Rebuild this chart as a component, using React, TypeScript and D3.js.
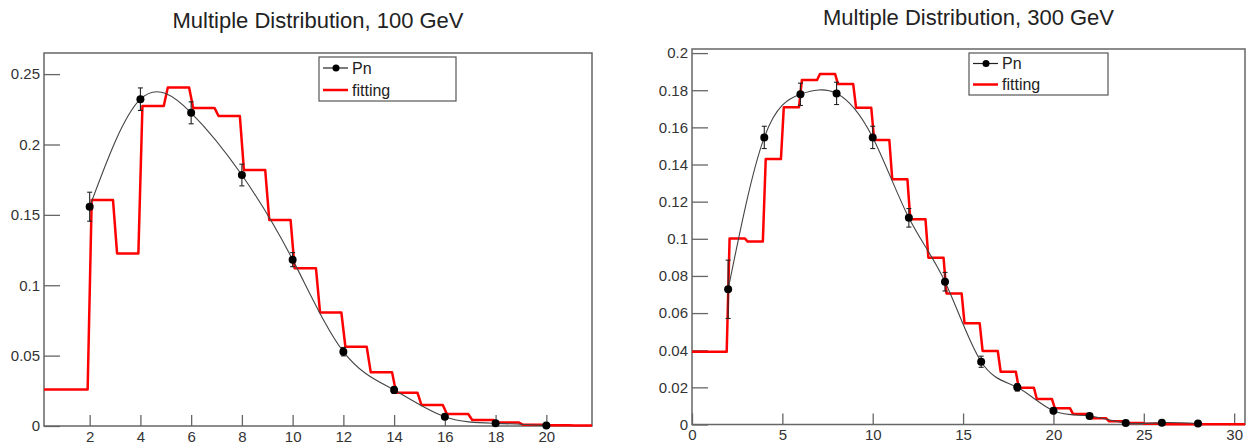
import React, { useRef, useEffect } from "react";
import * as d3 from "d3";

// 100 GeV: measured Pn with errors, and fitted step values per unit bin (n = 0..21)
const leftN = [2, 4, 6, 8, 10, 12, 14, 16, 18, 20];
const leftPn = [0.1558, 0.2322, 0.2225, 0.1783, 0.1182, 0.0528, 0.0256, 0.0066, 0.0019, 0.0003];
const leftErr = [0.0103, 0.008, 0.0078, 0.0077, 0.005, 0.003, 0.0025, 0.0015, 0.0008, 0.0003];
const leftFit = [
  0.026, 0.026, 0.1605, 0.1226, 0.2273, 0.2405, 0.226, 0.2202, 0.1818, 0.1463, 0.112,
  0.0807, 0.0563, 0.0381, 0.0237, 0.0149, 0.0085, 0.0043, 0.0025, 0.0008, 0.0005, 0.0004,
];

// 300 GeV (n = 0..30 for the fit)
const rightN = [2, 4, 6, 8, 10, 12, 14, 16, 18, 20, 22, 24, 26, 28];
const rightPn = [0.0728, 0.1546, 0.1778, 0.1783, 0.1546, 0.1113, 0.0769, 0.0338, 0.02, 0.0074, 0.0046, 0.0008, 0.001, 0.0005];
const rightErr = [0.0157, 0.006, 0.006, 0.006, 0.006, 0.005, 0.005, 0.003, 0.002, 0.0015, 0.001, 0.0005, 0.0005, 0.0003];
const rightFit = [
  0.0392, 0.0392, 0.1002, 0.0985, 0.1429, 0.1708, 0.1855, 0.1887, 0.1833, 0.1705, 0.1532,
  0.132, 0.1105, 0.0898, 0.0706, 0.0545, 0.0396, 0.0284, 0.0198, 0.0137, 0.0087, 0.0057,
  0.0033, 0.0017, 0.0008, 0.0004, 0.0002, 0.0001, 0.0001, 0.0001, 0.0001,
];

const leftXTicks = [2, 4, 6, 8, 10, 12, 14, 16, 18, 20];
const rightXTicks = [0, 5, 10, 15, 20, 25, 30];
const leftYTicks = [0, 0.05, 0.1, 0.15, 0.2, 0.25];
const rightYTicks = [0, 0.02, 0.04, 0.06, 0.08, 0.1, 0.12, 0.14, 0.16, 0.18, 0.2];

const legendLabels = ["Pn", "fitting"];

const FONT = "'Liberation Sans', Arial, Helvetica, sans-serif";
const FRAME = "#666";

interface Panel {
  title: string;
  titleY: number;
  left: number;
  right: number;
  top: number;
  bottom: number;
  xDomain: [number, number];
  yDomain: [number, number];
  xMajor: number[];
  xMinorStep: number;
  yMajor: number[];
  yMinorStep: number;
  n: number[];
  pn: number[];
  err: number[];
  fit: number[];
  legend: { x: number; y: number; w: number; h: number };
}

const panels: Panel[] = [
  {
    title: "Multiple Distribution, 100 GeV",
    titleY: 28,
    left: 44,
    right: 592,
    top: 53,
    bottom: 426,
    xDomain: [0.2, 21.8],
    yDomain: [0, 0.265],
    xMajor: leftXTicks,
    xMinorStep: 0.5,
    yMajor: leftYTicks,
    yMinorStep: 0.01,
    n: leftN,
    pn: leftPn,
    err: leftErr,
    fit: leftFit,
    legend: { x: 319, y: 57, w: 137, h: 44 },
  },
  {
    title: "Multiple Distribution, 300 GeV",
    titleY: 25,
    left: 692,
    right: 1245,
    top: 49,
    bottom: 424.5,
    xDomain: [0, 30.6],
    yDomain: [0, 0.2022],
    xMajor: rightXTicks,
    xMinorStep: 1,
    yMajor: rightYTicks,
    yMinorStep: 0.005,
    n: rightN,
    pn: rightPn,
    err: rightErr,
    fit: rightFit,
    legend: { x: 969, y: 53, w: 139, h: 42 },
  },
];

const stepsIn = (lo: number, hi: number, step: number) => {
  const out: number[] = [];
  const k0 = Math.ceil(lo / step - 1e-9);
  for (let k = k0; k * step <= hi + 1e-9; k++) out.push(+(k * step).toFixed(6));
  return out;
};

const drawPanel = (svg: d3.Selection<SVGSVGElement, unknown, null, undefined>, p: Panel) => {
  const x = d3.scaleLinear().domain(p.xDomain).range([p.left, p.right]);
  const y = d3.scaleLinear().domain(p.yDomain).range([p.bottom, p.top]);
  const g = svg.append("g");

  g.append("text")
    .attr("x", (p.left + p.right) / 2)
    .attr("y", p.titleY)
    .attr("text-anchor", "middle")
    .attr("font-family", FONT)
    .attr("font-size", 22)
    .attr("fill", "#222")
    .text(p.title);

  // y axis ticks (inside the frame)
  const yMinor = stepsIn(p.yDomain[0], p.yDomain[1], p.yMinorStep);
  const yAx = g.append("g").attr("transform", `translate(${p.left},0)`);
  yAx.call(d3.axisLeft(y).tickValues(yMinor).tickSize(-8).tickFormat(() => ""));
  yAx.call(
    d3
      .axisLeft(y)
      .tickValues(p.yMajor)
      .tickSize(-16)
      .tickPadding(4)
      .tickFormat((d) => String(+(+d).toFixed(3)))
  );

  const xMinor = stepsIn(p.xDomain[0], p.xDomain[1], p.xMinorStep);
  const xAx = g.append("g").attr("transform", `translate(0,${p.bottom})`);
  xAx.call(d3.axisBottom(x).tickValues(xMinor).tickSize(-5.5).tickFormat(() => ""));
  xAx.call(d3.axisBottom(x).tickValues(p.xMajor).tickSize(-11).tickPadding(5).tickFormat((d) => String(d)));

  g.selectAll(".domain").remove();
  g.selectAll(".tick line").attr("stroke", FRAME).attr("stroke-width", 1.3);
  g.selectAll(".tick text").attr("font-family", FONT).attr("font-size", 15).attr("fill", "#333");

  g.append("rect")
    .attr("x", p.left)
    .attr("y", p.top)
    .attr("width", p.right - p.left)
    .attr("height", p.bottom - p.top)
    .attr("fill", "none")
    .attr("stroke", FRAME)
    .attr("stroke-width", 1.5);

  // fitted step function, sampled like a TF1 so the risers lean a little
  const s = 0.08;
  const last = p.fit.length - 1;
  const stepPts: [number, number][] = [];
  p.fit.forEach((v, n) => {
    const a = n === 0 ? p.xDomain[0] : n + s;
    const b = n === last ? p.xDomain[1] : n + 1 - s;
    stepPts.push([a, v], [b, v]);
  });
  g.append("path")
    .datum(stepPts)
    .attr("fill", "none")
    .attr("stroke", "#ff0000")
    .attr("stroke-width", 2.5)
    .attr("stroke-linejoin", "round")
    .attr(
      "d",
      d3
        .line<[number, number]>()
        .x((d) => x(d[0]))
        .y((d) => y(d[1]))
    );

  // smooth curve through Pn
  const pts = p.n.map((n, i) => ({ n, v: p.pn[i], e: p.err[i] }));
  g.append("path")
    .datum(pts)
    .attr("fill", "none")
    .attr("stroke", "#444")
    .attr("stroke-width", 1.1)
    .attr(
      "d",
      d3
        .line<{ n: number; v: number }>()
        .curve(d3.curveNatural)
        .x((d) => x(d.n))
        .y((d) => y(d.v))
    );

  const eb = g.append("g").attr("stroke", "#222").attr("stroke-width", 1.1);
  pts.forEach((d) => {
    const cx = x(d.n);
    eb.append("line").attr("x1", cx).attr("x2", cx).attr("y1", y(d.v - d.e)).attr("y2", y(d.v + d.e));
    [d.v - d.e, d.v + d.e].forEach((yy) =>
      eb.append("line").attr("x1", cx - 2.5).attr("x2", cx + 2.5).attr("y1", y(yy)).attr("y2", y(yy))
    );
  });
  g.append("g")
    .selectAll("circle")
    .data(pts)
    .join("circle")
    .attr("cx", (d) => x(d.n))
    .attr("cy", (d) => y(d.v))
    .attr("r", 4)
    .attr("fill", "#000");

  // legend
  const L = p.legend;
  const lg = g.append("g");
  lg.append("rect")
    .attr("x", L.x)
    .attr("y", L.y)
    .attr("width", L.w)
    .attr("height", L.h)
    .attr("fill", "#fff")
    .attr("stroke", "#555")
    .attr("stroke-width", 1.2);
  const row1 = L.y + L.h * 0.25;
  const row2 = L.y + L.h * 0.75;
  lg.append("line").attr("x1", L.x + 4).attr("x2", L.x + 29).attr("y1", row1).attr("y2", row1).attr("stroke", "#222").attr("stroke-width", 1.2);
  lg.append("circle").attr("cx", L.x + 17).attr("cy", row1).attr("r", 3.5).attr("fill", "#000");
  lg.append("line").attr("x1", L.x + 4).attr("x2", L.x + 29).attr("y1", row2).attr("y2", row2).attr("stroke", "#ff0000").attr("stroke-width", 2.5);
  legendLabels.forEach((t, i) => {
    lg.append("text")
      .attr("x", L.x + 33)
      .attr("y", i === 0 ? row1 : row2)
      .attr("dy", "0.35em")
      .attr("font-family", FONT)
      .attr("font-size", 16)
      .attr("fill", "#222")
      .text(t);
  });
};

const App = () => {
  const ref = useRef<SVGSVGElement>(null);

  useEffect(() => {
    if (!ref.current) return;
    const svg = d3.select(ref.current);
    svg.selectAll("*").remove();
    svg.append("rect").attr("width", 1249).attr("height", 447).attr("fill", "#fff");
    panels.forEach((p) => drawPanel(svg, p));
  }, []);

  return (
    <svg
      ref={ref}
      width={1249}
      height={447}
      style={{ position: "absolute", left: 0, top: 0 }}
    />
  );
};

export default App;
